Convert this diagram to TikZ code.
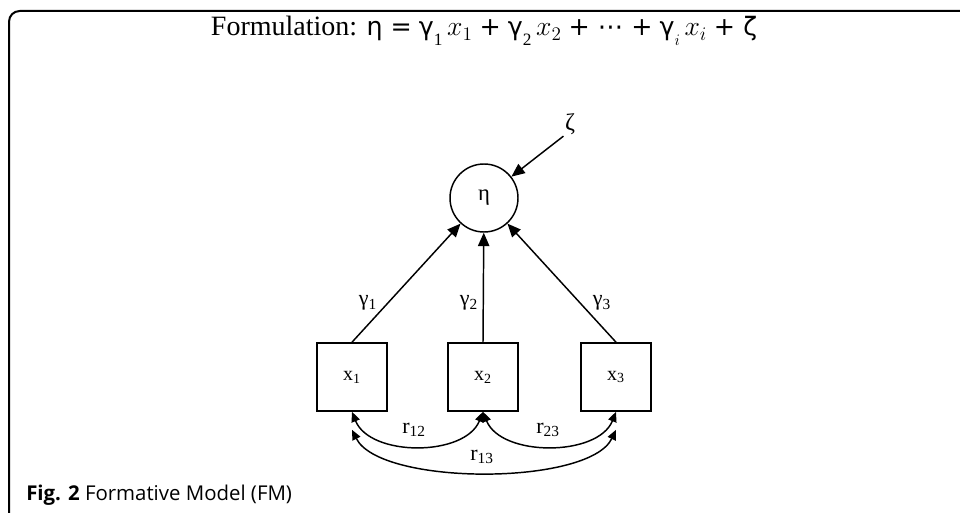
\documentclass[tikz,border=0pt]{standalone}
\usepackage{fontspec}
\setmainfont{Liberation Serif}
\newfontfamily\capfont{Open Sans}
\newfontfamily\symfont{DejaVu Sans}
\usetikzlibrary{positioning, arrows.meta}

\newcommand{\mth}{\symfont\fontsize{19}{22}\selectfont}
\newcommand{\gsub}[2]{{\mth #1}\raisebox{-0.75ex}{\fontsize{13}{15}\selectfont #2}}

\begin{document}
\begin{tikzpicture}[
  x=0.75pt, y=-0.75pt,
  latent/.style={circle, draw, line width=1.1pt, minimum size=51pt,
                 inner sep=0pt, font=\fontsize{17}{19}\selectfont},
  obs/.style={rectangle, draw, line width=1.2pt, minimum width=52.5pt,
              minimum height=51pt, font=\fontsize{15}{17}\selectfont},
  arr/.style={-{Triangle[length=10pt, width=8.5pt]}, line width=1.1pt},
  dbl/.style={{Triangle[length=7.5pt, width=6.5pt]}-{Triangle[length=7.5pt, width=6.5pt]}, line width=1.1pt},
  lbl/.style={font=\fontsize{16.5}{18}\selectfont, inner sep=1pt}
]
  \useasboundingbox (0,0) rectangle (960,513);
  % frame
  \draw[line width=1.5pt, rounded corners=8pt] (9,513) -- (9,11) -- (960,11);

  % formula
  \node[font=\fontsize{21}{24}\selectfont] (formula) at (484,31)
    {Formulation: {\mth η =}
     \gsub{γ}{1}\,$x_1$ {\mth +} \gsub{γ}{2}\,$x_2$ {\mth + ⋯ +}
     \gsub{γ}{$i$}\,$x_i$ {\mth + ζ}};

  % model
  \node[latent] (eta) at (484,198) {η};
  \node[lbl, font=\fontsize{18}{20}\selectfont] (zeta) at (570,124) {ζ};
  \node[obs] (x1) at (352,377) {x\textsubscript{1}};
  \node[obs] (x2) at (483,377) {x\textsubscript{2}};
  \node[obs] (x3) at (616,377) {x\textsubscript{3}};

  \draw[arr] (zeta.south west) -- (eta);
  \draw[arr] (x1.north) -- (eta);
  \draw[arr] (x2.north) -- (eta);
  \draw[arr] (x3.north) -- (eta);
  \node[lbl] (g1) at (368,303) {γ\textsubscript{1}};
  \node[lbl] (g2) at (469,303) {γ\textsubscript{2}};
  \node[lbl] (g3) at (602,303) {γ\textsubscript{3}};

  % correlations
  \draw[dbl] (x1.south) .. controls (370,457) and (465,457) .. (x2.south);
  \draw[dbl] (x2.south) .. controls (501,457) and (598,457) .. (x3.south);
  \draw[dbl] ([yshift=-13.5pt]x1.south) .. controls (380,486) and (589,486) .. ([yshift=-13.5pt]x3.south);
  \node[lbl] (r12) at (414,430) {r\textsubscript{12}};
  \node[lbl] (r23) at (548,430) {r\textsubscript{23}};
  \node[lbl] (r13) at (482,457) {r\textsubscript{13}};

  % caption
  \node[anchor=west, font=\capfont\fontsize{15.3}{18}\selectfont, inner sep=0pt] (cap) at (26,495)
    {\textbf{Fig. 2} Formative Model (FM)};
\end{tikzpicture}
\end{document}
